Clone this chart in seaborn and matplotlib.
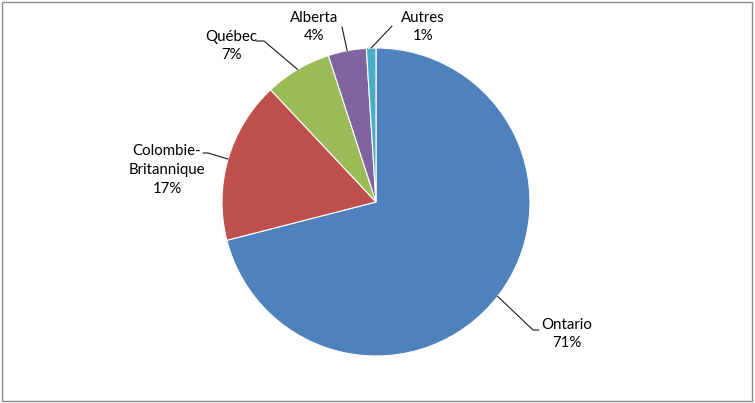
import numpy as np
import matplotlib
matplotlib.use('Agg')
import matplotlib.pyplot as plt
import seaborn as sns
from matplotlib.patches import Rectangle

sns.set_style('white')
plt.rcParams['font.family'] = ['Lato', 'DejaVu Sans']

# data
provinces = ['Ontario', 'Colombie-\nBritannique', 'Québec', 'Alberta', 'Autres']
shares = [71, 17, 7, 4, 1]
colors = ['#4F81BD', '#C0504D', '#9BBB59', '#8064A2', '#4BACC6']

# layout (pixels in a 755x403 canvas): label centre, elbow of leader line, end of horizontal tick
cx, cy, rad = 376, 202, 154
label_pos = [(567, 334), (167, 170), (231, 46), (314, 27), (423, 27)]
elbow_pos = [(533, 330), (208, 153), (264, 41), (342, 27), (392, 26)]
tick_end = [(539, 330), (203, 153), (256, 41), (342, 27), (392, 26)]


def to_data(p):
    return ((p[0] - cx) / rad, (cy - p[1]) / rad)


fig = plt.figure(figsize=(7.55, 4.03), dpi=100)
ax = fig.add_axes([0, 0, 1, 1])
wedges, _ = ax.pie(shares, colors=colors, startangle=90, counterclock=False,
                   radius=1, center=(0, 0),
                   wedgeprops=dict(edgecolor='white', linewidth=0.8))
ax.set_xlim(-cx / rad, (755 - cx) / rad)
ax.set_ylim(-(403 - cy) / rad, cy / rad)
ax.set_aspect('auto')
ax.axis('off')

for w, name, val, lp, ep, tp in zip(wedges, provinces, shares, label_pos, elbow_pos, tick_end):
    mid = np.deg2rad((w.theta1 + w.theta2) / 2)
    edge = (np.cos(mid), np.sin(mid))
    e = to_data(ep)
    t = to_data(tp)
    ax.plot([edge[0], e[0], t[0]], [edge[1], e[1], t[1]], color='#1a1a1a', lw=0.8)
    l = to_data(lp)
    ax.text(l[0], l[1], f'{name}\n{val}%', ha='center', va='center',
            fontsize=10.8, color='black', linespacing=1.45)

fig.patches.append(Rectangle((0.003, 0.004), 0.993, 0.991, transform=fig.transFigure,
                             fill=False, edgecolor='#8c8c8c', linewidth=1))

fig.savefig('out.png', dpi=100)
